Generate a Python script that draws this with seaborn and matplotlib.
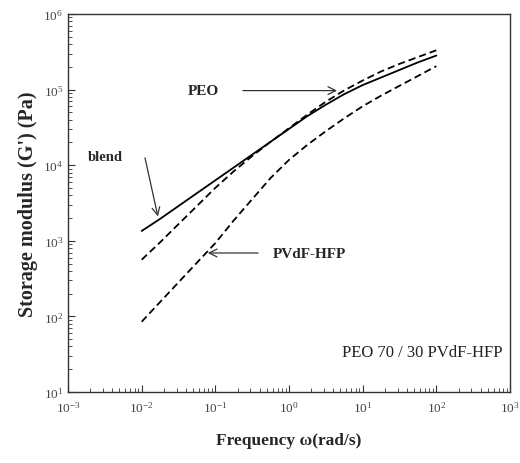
import matplotlib
matplotlib.use("Agg")
import matplotlib.pyplot as plt
import seaborn as sns
import pandas as pd
from matplotlib.ticker import LogLocator, LogFormatterMathtext, NullFormatter

# ---- data ----
freq = [0.01, 0.0178, 0.0316, 0.0562, 0.1, 0.178, 0.316, 0.562, 1.0,
        1.78, 3.16, 5.62, 10.0, 17.8, 31.6, 56.2, 100.0]
blend = [1349, 1950, 2884, 4266, 6310, 9333, 13800, 20400, 30200,
         44700, 63100, 87100, 114800, 144500, 182000, 229000, 282000]
peo = [562, 955, 1660, 2884, 5012, 8318, 13200, 20400, 30900,
       46800, 69200, 97700, 131800, 173800, 218800, 269200, 331100]
pvdf = [85, 155, 282, 513, 933, 1862, 3548, 6761, 11750,
        18620, 28180, 41690, 60260, 83180, 112200, 151400, 204200]
series_names = ["blend", "PEO", "PVdF-HFP"]
x_ticks = [1e-3, 1e-2, 1e-1, 1e0, 1e1, 1e2, 1e3]
y_ticks = [1e1, 1e2, 1e3, 1e4, 1e5, 1e6]

df = pd.concat([
    pd.DataFrame({"freq": freq, "G": blend, "series": series_names[0]}),
    pd.DataFrame({"freq": freq, "G": peo, "series": series_names[1]}),
    pd.DataFrame({"freq": freq, "G": pvdf, "series": series_names[2]}),
])

sns.set_style("ticks")
plt.rcParams["font.family"] = ["Liberation Serif", "DejaVu Serif"]
plt.rcParams["mathtext.fontset"] = "stix"

fig = plt.figure(figsize=(5.2, 4.64), dpi=100)
ax = fig.add_axes([68 / 520, 1 - 393 / 464, (510 - 68) / 520, (393 - 15) / 464])

sns.lineplot(data=df, x="freq", y="G", style="series",
             dashes={"blend": "", "PEO": (4, 2.2), "PVdF-HFP": (4, 2.2)},
             color="black", linewidth=1.3, legend=False, ax=ax, sort=False)

ax.set_xscale("log")
ax.set_yscale("log")
ax.set_xlim(1e-3, 1e3)
ax.set_ylim(1e1, 1e6)
ax.set_xticks(x_ticks)
ax.set_yticks(y_ticks)
ax.xaxis.set_major_formatter(LogFormatterMathtext())
ax.yaxis.set_major_formatter(LogFormatterMathtext())
ax.xaxis.set_minor_locator(LogLocator(base=10, subs=range(2, 10), numticks=20))
ax.yaxis.set_minor_locator(LogLocator(base=10, subs=range(2, 10), numticks=20))
ax.xaxis.set_minor_formatter(NullFormatter())
ax.yaxis.set_minor_formatter(NullFormatter())
ax.tick_params(which="both", direction="in", top=False, right=False,
               labelsize=9.5, labelcolor="#444444", color="#333333")
ax.tick_params(which="major", length=5, width=0.8)
ax.tick_params(which="minor", length=3, width=0.6)
ax.tick_params(axis="x", pad=6)
for s in ax.spines.values():
    s.set_linewidth(1.0)
    s.set_color("#333333")

ax.set_xlabel("Frequency \u03c9(rad/s)", fontsize=12.5, fontweight="bold", labelpad=12)
ax.set_ylabel("Storage modulus (G') (Pa)", fontsize=14.5, fontweight="bold", labelpad=4)

arrow_kw = dict(arrowstyle="->", color="#333333", lw=0.9,
                mutation_scale=14, shrinkA=0, shrinkB=0)

# PEO label and arrow
ax.text(0.069, 9.6e4, "PEO", ha="center", va="center", fontsize=11, fontweight="bold")
ax.annotate("", xy=(4.5, 9.7e4), xytext=(0.237, 9.7e4), arrowprops=arrow_kw)

# blend label and arrow
ax.text(0.0032, 1.3e4, "blend", ha="center", va="center", fontsize=10.5, fontweight="bold")
ax.annotate("", xy=(0.0166, 2.1e3), xytext=(0.0111, 1.25e4), arrowprops=arrow_kw)

# PVdF-HFP label and arrow
ax.annotate("", xy=(0.079, 690), xytext=(0.38, 690), arrowprops=arrow_kw)
ax.text(1.89, 680, "PVdF-HFP", ha="center", va="center", fontsize=11, fontweight="bold")

ax.text(0.983, 0.106, "PEO 70 / 30 PVdF-HFP", transform=ax.transAxes,
        ha="right", va="center", fontsize=12, color="#222222")

fig.savefig("out.png", dpi=100)
